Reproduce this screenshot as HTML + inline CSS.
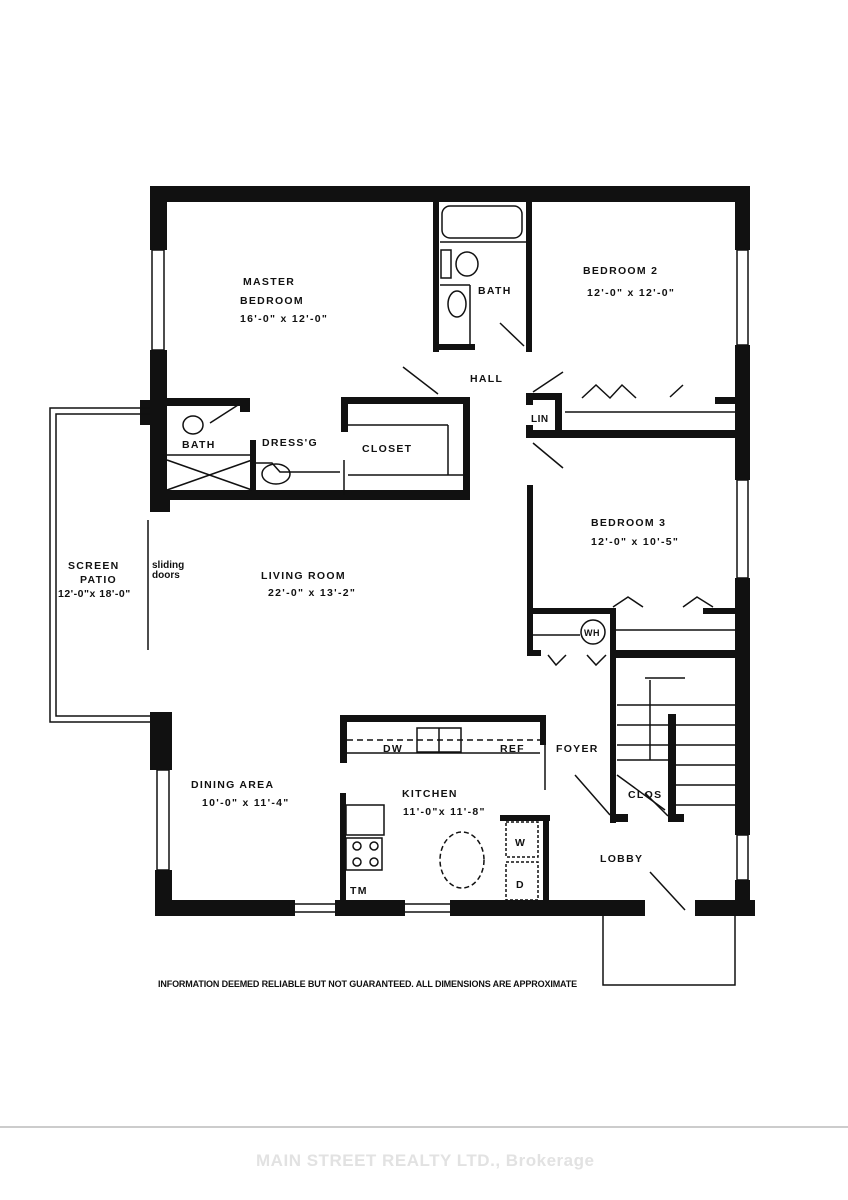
<!DOCTYPE html>
<html><head><meta charset="utf-8"><style>
html,body{margin:0;padding:0;background:#fff;}
svg{display:block}
text{font-family:"Liberation Sans",sans-serif;font-weight:bold;fill:#111}
</style></head><body>
<svg width="848" height="1200" viewBox="0 0 848 1200" xmlns="http://www.w3.org/2000/svg">
<g fill="#111">
<rect x="150" y="186" width="599" height="16"/>
<rect x="150" y="186" width="17" height="64"/>
<rect x="150" y="350" width="17" height="160"/>
<rect x="140" y="400" width="14" height="25"/>
<rect x="735" y="186" width="15" height="64"/>
<rect x="735" y="345" width="15" height="135"/>
<rect x="735" y="578" width="15" height="257"/>
<rect x="735" y="880" width="15" height="35"/>
<rect x="155" y="900" width="140" height="16"/>
<rect x="335" y="900" width="70" height="16"/>
<rect x="450" y="900" width="195" height="16"/>
<rect x="695" y="900" width="60" height="16"/>
<rect x="150" y="712" width="22" height="58"/>
<rect x="155" y="870" width="17" height="46"/>
<rect x="150" y="490" width="320" height="10"/>
<rect x="150" y="500" width="20" height="12"/>
<rect x="433" y="200" width="6" height="152"/>
<rect x="526" y="200" width="6" height="152"/>
<rect x="433" y="344" width="42" height="6"/>
<rect x="165" y="398" width="85" height="8"/>
<rect x="240" y="398" width="10" height="14"/>
<rect x="250" y="440" width="6" height="55"/>
<rect x="341" y="397" width="129" height="7"/>
<rect x="341" y="397" width="7" height="35"/>
<rect x="463" y="397" width="7" height="100"/>
<rect x="526" y="393" width="36" height="7"/>
<rect x="555" y="393" width="7" height="40"/>
<rect x="526" y="430" width="210" height="8"/>
<rect x="526" y="393" width="7" height="12"/>
<rect x="526" y="425" width="7" height="12"/>
<rect x="715" y="397" width="22" height="7"/>
<rect x="527" y="485" width="6" height="170"/>
<rect x="527" y="608" width="86" height="6"/>
<rect x="703" y="608" width="34" height="6"/>
<rect x="527" y="650" width="14" height="6"/>
<rect x="610" y="608" width="6" height="215"/>
<rect x="610" y="650" width="127" height="8"/>
<rect x="610" y="814" width="18" height="8"/>
<rect x="668" y="714" width="8" height="108"/>
<rect x="668" y="814" width="16" height="8"/>
<rect x="340" y="715" width="206" height="7"/>
<rect x="340" y="715" width="7" height="48"/>
<rect x="540" y="715" width="6" height="30"/>
<rect x="340" y="793" width="6" height="115"/>
<rect x="500" y="815" width="50" height="6"/>
<rect x="543" y="815" width="6" height="90"/>
</g>
<g fill="none" stroke="#111" stroke-width="1.5">
<rect x="152" y="250" width="12" height="100"/><rect x="737" y="250" width="11" height="95"/>
<rect x="737" y="480" width="11" height="98"/><rect x="737" y="835" width="11" height="45"/>
<rect x="157" y="770" width="12" height="100"/>
<line x1="295" y1="904" x2="335" y2="904"/><line x1="295" y1="912" x2="335" y2="912"/>
<line x1="405" y1="904" x2="450" y2="904"/><line x1="405" y1="912" x2="450" y2="912"/>
<polyline points="150,408 50,408 50,722 150,722"/>
<polyline points="150,414 56,414 56,716 150,716"/>
<line x1="148" y1="520" x2="148" y2="650"/>
<rect x="442" y="206" width="80" height="32" rx="8"/>
<ellipse cx="467" cy="264" rx="11" ry="12"/><ellipse cx="457" cy="304" rx="9" ry="13"/>
<rect x="441" y="250" width="10" height="28"/>
<line x1="440" y1="242" x2="526" y2="242"/><line x1="440" y1="285" x2="470" y2="285"/><line x1="470" y1="285" x2="470" y2="345"/>
<line x1="500" y1="323" x2="524" y2="346"/>
<ellipse cx="193" cy="425" rx="10" ry="9"/>
<line x1="167" y1="455" x2="252" y2="455"/>
<line x1="167" y1="460" x2="252" y2="490"/><line x1="167" y1="490" x2="252" y2="460"/>
<line x1="210" y1="423" x2="238" y2="405"/>
<ellipse cx="276" cy="474" rx="14" ry="10"/>
<polyline points="256,463 272,463 280,472 340,472"/>
<line x1="348" y1="425" x2="448" y2="425"/><line x1="448" y1="425" x2="448" y2="475"/><line x1="348" y1="475" x2="465" y2="475"/>
<line x1="344" y1="460" x2="344" y2="495"/>
<line x1="403" y1="367" x2="438" y2="394"/>
<line x1="533" y1="392" x2="563" y2="372"/>
<line x1="533" y1="443" x2="563" y2="468"/>
<polyline points="582,398 596,385 610,398 622,385 636,398"/>
<line x1="670" y1="397" x2="683" y2="385"/>
<line x1="565" y1="412" x2="735" y2="412"/>
<polyline points="613,607 628,597 643,607"/><polyline points="683,607 697,597 713,607"/>
<line x1="616" y1="630" x2="736" y2="630"/>
<circle cx="593" cy="632" r="12"/>
<line x1="533" y1="635" x2="580" y2="635"/>
<polyline points="548,655 556,665 566,655"/><polyline points="587,655 596,665 606,655"/>
<line x1="617" y1="705" x2="735" y2="705"/>
<line x1="617" y1="725" x2="668" y2="725"/><line x1="617" y1="745" x2="668" y2="745"/><line x1="617" y1="760" x2="668" y2="760"/>
<line x1="676" y1="725" x2="735" y2="725"/><line x1="676" y1="745" x2="735" y2="745"/><line x1="676" y1="765" x2="735" y2="765"/><line x1="676" y1="785" x2="735" y2="785"/><line x1="676" y1="805" x2="735" y2="805"/>
<line x1="650" y1="680" x2="650" y2="760"/><line x1="645" y1="678" x2="685" y2="678"/>
<line x1="617" y1="775" x2="665" y2="810"/>
<line x1="575" y1="775" x2="610" y2="815"/><line x1="645" y1="793" x2="668" y2="816"/>
<line x1="347" y1="740" x2="540" y2="740" stroke-dasharray="6,4"/>
<rect x="417" y="728" width="44" height="24"/><line x1="439" y1="728" x2="439" y2="752"/>
<line x1="347" y1="753" x2="540" y2="753"/>
<line x1="545" y1="745" x2="545" y2="790"/>
<rect x="346" y="805" width="38" height="30"/>
<rect x="346" y="838" width="36" height="32"/>
<circle cx="357" cy="846" r="4"/><circle cx="374" cy="846" r="4"/><circle cx="357" cy="862" r="4"/><circle cx="374" cy="862" r="4"/>
<ellipse cx="462" cy="860" rx="22" ry="28" stroke-dasharray="5,3"/>
<rect x="506" y="822" width="32" height="35" stroke-dasharray="3,2"/>
<rect x="506" y="862" width="32" height="38" stroke-dasharray="3,2"/>
<line x1="650" y1="872" x2="685" y2="910"/>
<polyline points="603,916 603,985 735,985 735,916"/>
<line x1="0" y1="1127" x2="848" y2="1127" stroke="#999" stroke-width="1"/>
</g>
<g font-size="10.5" letter-spacing="1.3">
<text x="243" y="285">MASTER</text>
<text x="240" y="304">BEDROOM</text>
<text x="240" y="322">16'-0" x 12'-0"</text>
<text x="478" y="294">BATH</text>
<text x="583" y="274">BEDROOM 2</text>
<text x="587" y="296">12'-0" x 12'-0"</text>
<text x="470" y="382">HALL</text>
<text x="531" y="422" font-size="10" letter-spacing="0.5">LIN</text>
<text x="182" y="448">BATH</text>
<text x="262" y="446">DRESS'G</text>
<text x="362" y="452">CLOSET</text>
<text x="591" y="526">BEDROOM 3</text>
<text x="591" y="545">12'-0" x 10'-5"</text>
<text x="584" y="636" font-size="9" letter-spacing="0.5">WH</text>
<text x="68" y="569">SCREEN</text>
<text x="80" y="583">PATIO</text>
<text x="58" y="597" letter-spacing="0.5">12'-0"x 18'-0"</text>
<text x="152" y="568" font-weight="normal" font-size="10" letter-spacing="0">sliding</text>
<text x="152" y="578" font-weight="normal" font-size="10" letter-spacing="0">doors</text>
<text x="261" y="579">LIVING ROOM</text>
<text x="268" y="596">22'-0" x 13'-2"</text>
<text x="383" y="752">DW</text>
<text x="500" y="752">REF</text>
<text x="556" y="752">FOYER</text>
<text x="191" y="788">DINING AREA</text>
<text x="202" y="806">10'-0" x 11'-4"</text>
<text x="402" y="797">KITCHEN</text>
<text x="403" y="815">11'-0"x 11'-8"</text>
<text x="628" y="798">CLOS</text>
<text x="515" y="846">W</text>
<text x="516" y="888">D</text>
<text x="350" y="894">TM</text>
<text x="600" y="862">LOBBY</text>
</g>
<text x="158" y="987" font-size="9" letter-spacing="-0.1" textLength="419">INFORMATION DEEMED RELIABLE BUT NOT GUARANTEED.  ALL DIMENSIONS ARE APPROXIMATE</text>
<text x="256" y="1166" font-size="17" font-weight="normal" textLength="338" style="fill:#e2e2e2">MAIN STREET REALTY LTD., Brokerage</text>
</svg>
</body></html>
